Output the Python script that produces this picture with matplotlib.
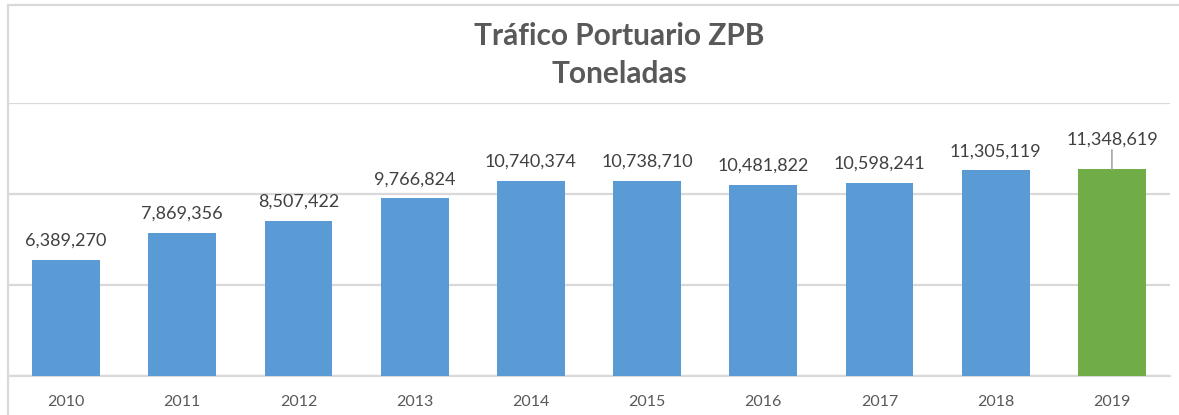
import matplotlib.pyplot as plt
from matplotlib.lines import Line2D

# Data
years = ["2010", "2011", "2012", "2013", "2014", "2015", "2016", "2017", "2018", "2019"]
toneladas = [6389270, 7869356, 8507422, 9766824, 10740374, 10738710,
             10481822, 10598241, 11305119, 11348619]
highlight_year = "2019"

blue = "#5B9BD5"
green = "#70AD47"
grid_grey = "#D9D9D9"

plt.rcParams['font.family'] = ['Lato', 'DejaVu Sans']

W, H = 1179, 415
fig = plt.figure(figsize=(W / 100, H / 100), dpi=100)
ax = fig.add_axes([8 / W, (H - 376) / H, (1170 - 8) / W, (376 - 103) / H])

colors = [green if y == highlight_year else blue for y in years]
x = range(len(years))
bars = ax.bar(x, toneladas, width=0.585, color=colors, zorder=3)

ax.set_xlim(-0.5, len(years) - 0.5)
ax.set_ylim(0, 15000000)
ax.set_yticks([0, 5000000, 10000000, 15000000])
ax.set_yticklabels([])
ax.tick_params(axis='y', length=0)
ax.yaxis.grid(True, color=grid_grey, linewidth=1.6, zorder=0)
ax.set_xticks(list(x))
ax.set_xticklabels(years, fontsize=11.5, color="#595959")
ax.tick_params(axis='x', length=0, pad=14)
for s in ["top", "right", "left"]:
    ax.spines[s].set_visible(False)
ax.spines["bottom"].set_color(grid_grey)
ax.spines["bottom"].set_linewidth(1.6)

# Value labels
for i, (yr, v) in enumerate(zip(years, toneladas)):
    label = f"{v:,}"
    if yr == highlight_year:
        ax.annotate(label, xy=(i, v), xytext=(0, 16), textcoords="offset points",
                    ha="center", va="bottom", fontsize=13, color="#404040",
                    arrowprops=dict(arrowstyle="-", color="#A6A6A6", lw=1.2,
                                    shrinkA=0, shrinkB=0))
    else:
        ax.annotate(label, xy=(i, v), xytext=(0, 8), textcoords="offset points",
                    ha="center", va="bottom", fontsize=13, color="#404040")

# Title
fig.text(619 / W, 1 - 55 / H, "Tráfico Portuario ZPB\nToneladas", ha="center", va="center",
         fontsize=21.5, fontweight="bold", color="#595959", linespacing=1.45)

# Chart frame (cropped)
fig.add_artist(Line2D([8 / W, 1], [1 - 5 / H, 1 - 5 / H], color=grid_grey, lw=1.6,
                      transform=fig.transFigure))
fig.add_artist(Line2D([8 / W, 8 / W], [0, 1 - 5 / H], color=grid_grey, lw=1.6,
                      transform=fig.transFigure))

fig.savefig("out.png", dpi=100)
